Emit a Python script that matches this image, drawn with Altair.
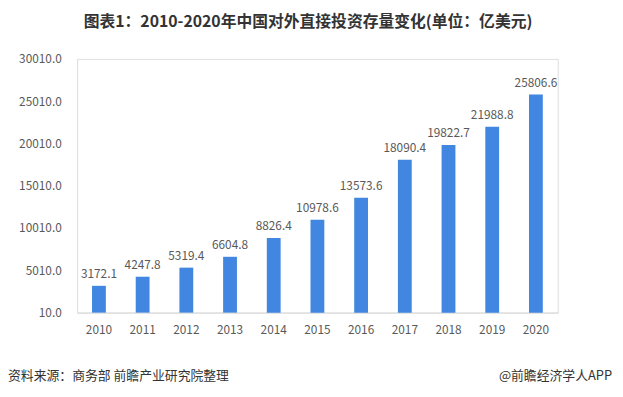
import altair as alt
import pandas as pd

years = ["2010", "2011", "2012", "2013", "2014", "2015", "2016", "2017", "2018", "2019", "2020"]
values = [3172.1, 4247.8, 5319.4, 6604.8, 8826.4, 10978.6, 13573.6, 18090.4, 19822.7, 21988.8, 25806.6]
y_ticks = [10, 5010, 10010, 15010, 20010, 25010, 30010]
title_text = "图表1：2010-2020年中国对外直接投资存量变化(单位：亿美元)"
source_text = "资料来源：商务部 前瞻产业研究院整理"
brand_text = "@前瞻经济学人APP"

FONT = "Noto Sans CJK SC"
GRAY = "#595959"

df = pd.DataFrame({"year": years, "value": values})

x_enc = alt.X("year:O", title=None, sort=years,
              scale=alt.Scale(paddingInner=0, paddingOuter=0),
              axis=alt.Axis(labelAngle=0, labelFont=FONT, labelFontSize=12, labelColor=GRAY,
                            domainColor="#D9D9D9", domainWidth=1, ticks=False, labelPadding=12))
y_enc = alt.Y("value:Q", title=None,
              scale=alt.Scale(domain=[10, 30010], nice=False, zero=False),
              axis=alt.Axis(values=y_ticks, format=".1f", grid=False, domain=False, ticks=False,
                            labelFont=FONT, labelFontSize=12, labelColor=GRAY, labelPadding=16))

base = alt.Chart(df)
bars = base.mark_bar(size=14, color="#4186E0").encode(x=x_enc, y=y_enc)
labels = base.mark_text(font=FONT, fontSize=12, color=GRAY, baseline="middle", dy=-12).encode(
    x=alt.X("year:O", sort=years), y=alt.Y("value:Q"), text=alt.Text("value:Q", format=".1f"))

title = alt.Chart(pd.DataFrame({"t": [title_text]})).mark_text(
    font=FONT, fontSize=16, fontWeight="bold", color="#333333", align="center", baseline="middle"
).encode(x=alt.value(234), y=alt.value(-37), text="t:N")
source = alt.Chart(pd.DataFrame({"t": [source_text]})).mark_text(
    font=FONT, fontSize=13, color="#333333", align="left", baseline="middle"
).encode(x=alt.value(-70), y=alt.value(321), text="t:N")
brand = alt.Chart(pd.DataFrame({"t": [brand_text]})).mark_text(
    font=FONT, fontSize=13, color="#333333", align="right", baseline="middle"
).encode(x=alt.value(542), y=alt.value(321), text="t:N")

chart = alt.layer(bars, labels, title, source, brand).properties(
    width=487, height=257,
    autosize=alt.AutoSizeParams(type="none"),
    padding={"left": 70, "top": 49, "right": 58, "bottom": 83},
).configure_view(stroke=None).configure(background="white")

chart.save("out.html", embed_options={"renderer": "svg", "actions": False})
